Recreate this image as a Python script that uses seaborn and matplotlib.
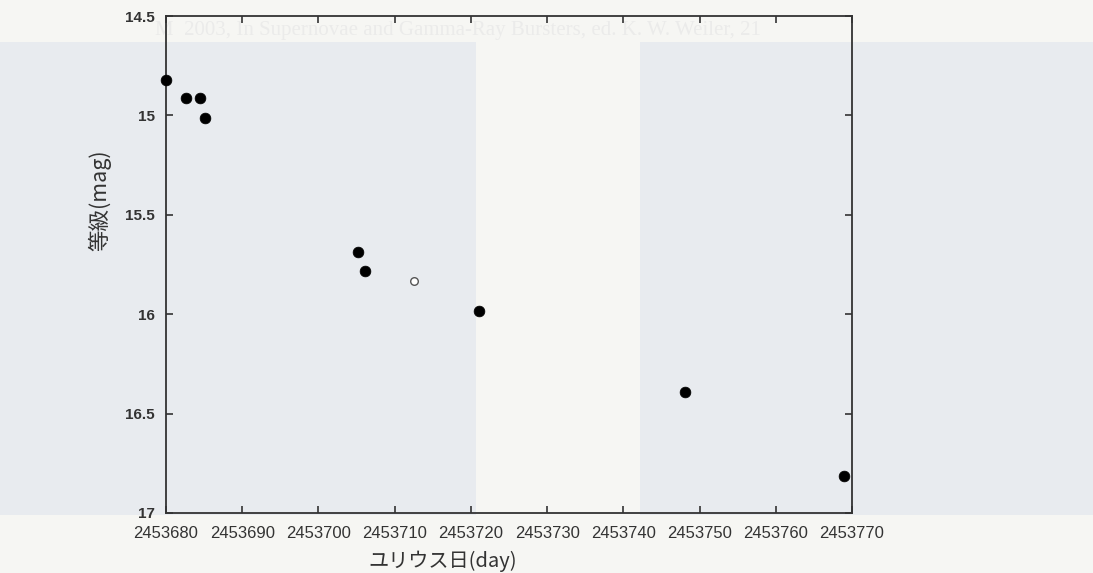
import matplotlib
matplotlib.use("Agg")
import matplotlib.pyplot as plt
import seaborn as sns
import pandas as pd

# Data
jd_filled = [2453680.0, 2453682.6, 2453684.4, 2453685.1, 2453705.2, 2453706.1,
             2453721.0, 2453748.1, 2453768.9]
mag_filled = [14.82, 14.91, 14.91, 15.015, 15.685, 15.785, 15.985, 16.39, 16.815]
jd_open = [2453712.6]
mag_open = [15.835]

x_ticks = [2453680, 2453690, 2453700, 2453710, 2453720, 2453730,
           2453740, 2453750, 2453760, 2453770]
y_ticks = [14.5, 15, 15.5, 16, 16.5, 17]
y_tick_labels = ["14.5", "15", "15.5", "16", "16.5", "17"]

df_f = pd.DataFrame({"jd": jd_filled, "mag": mag_filled})
df_o = pd.DataFrame({"jd": jd_open, "mag": mag_open})

sns.set_theme(style="ticks")
plt.rcParams["font.family"] = ["Liberation Sans", "Noto Sans CJK JP", "DejaVu Sans"]

W, H = 1093, 573
fig = plt.figure(figsize=(10.93, 5.73), dpi=100)
fig.patch.set_facecolor("#f6f6f3")

# background (scanned-page shading) axes in pixel coordinates
bg = fig.add_axes([0, 0, 1, 1])
bg.set_zorder(-5)
bg.set_xlim(0, W)
bg.set_ylim(H, 0)
bg.axis("off")
bg.axvspan(0, 476, ymin=1 - 515 / H, ymax=1 - 42 / H, color="#e8ebef", lw=0)
bg.axvspan(640, W, ymin=1 - 515 / H, ymax=1 - 42 / H, color="#e8ebef", lw=0)
bg.text(155, 30, "M  2003, In Supernovae and Gamma-Ray Bursters, ed. K. W. Weiler, 21",
        fontsize=15, color="#ebebea", family="Liberation Serif", va="center")

ax = fig.add_axes([166 / W, 1 - 513 / H, 686 / W, 497 / H])
ax.set_zorder(1)
ax.set_facecolor("none")

sns.scatterplot(data=df_f, x="jd", y="mag", ax=ax, s=60, color="black",
                edgecolor="black", linewidth=0.5, zorder=3, clip_on=False)
sns.scatterplot(data=df_o, x="jd", y="mag", ax=ax, s=30, facecolor="white",
                edgecolor="#555555", linewidth=1.0, zorder=3, clip_on=False)

ax.set_xlim(2453680, 2453770)
ax.set_ylim(17, 14.5)
ax.set_xticks(x_ticks)
ax.set_xticklabels([str(t) for t in x_ticks], fontsize=12, color="#222222")
ax.set_yticks(y_ticks)
ax.set_yticklabels(y_tick_labels, fontsize=11, fontweight="bold", color="#222222")

ax.tick_params(direction="in", length=5, width=1.2, top=True, right=True,
               colors="#333333")
ax.tick_params(axis="x", pad=9)
ax.tick_params(axis="y", pad=8)
for s in ax.spines.values():
    s.set_color("#333333")
    s.set_linewidth(1.3)

ax.set_xlabel("ユリウス日(day)", fontsize=14.5, color="#333333",
              family=["Noto Sans CJK JP", "DejaVu Sans"])
ax.set_ylabel("等級(mag)", fontsize=15.5, color="#333333",
              family=["Noto Sans CJK JP", "DejaVu Sans"])
ax.xaxis.set_label_coords(0.403, -0.076)
ax.yaxis.set_label_coords(-0.079, 0.63)

fig.savefig("out.png", dpi=100, facecolor=fig.get_facecolor())
